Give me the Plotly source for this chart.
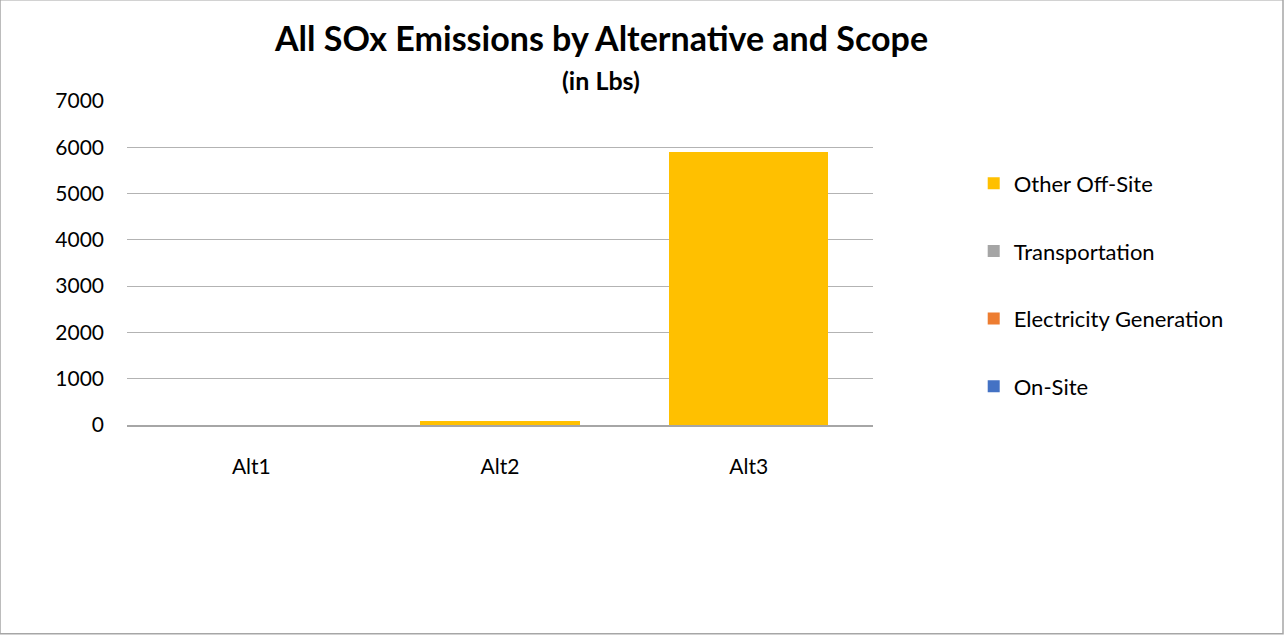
import plotly.graph_objects as go

# Emissions data (lbs)
alternatives = ["Alt1", "Alt2", "Alt3"]
on_site = [0, 0, 0]
electricity_generation = [0, 0, 0]
transportation = [0, 0, 0]
other_off_site = [0, 85, 5900]

y_ticks = [0, 1000, 2000, 3000, 4000, 5000, 6000, 7000]

series = [
    ("On-Site", on_site, "#4472C4"),
    ("Electricity Generation", electricity_generation, "#ED7D31"),
    ("Transportation", transportation, "#A5A5A5"),
    ("Other Off-Site", other_off_site, "#FFC000"),
]

FONT = "Lato, Open Sans, sans-serif"

fig = go.Figure()
n = len(series)
for i, (name, vals, color) in enumerate(series):
    fig.add_trace(go.Bar(
        x=alternatives, y=vals, name=name,
        marker=dict(color=color, line=dict(width=0)),
        legendgroup=f"g{i}",
        legendrank=n - i,
    ))

fig.update_layout(
    width=1284, height=637,
    barmode="stack",
    bargap=0.36,
    plot_bgcolor="white",
    paper_bgcolor="white",
    margin=dict(l=127, r=411, t=101, b=212),
    font=dict(family=FONT, size=21, color="#000000"),
    legend=dict(
        traceorder="grouped",
        tracegroupgap=36,
        x=1.135, xanchor="left", y=0.81, yanchor="top",
        font=dict(family=FONT, size=22, color="#000000"),
        itemwidth=30,
    ),
    xaxis=dict(
        showline=True, linecolor="#A6A6A6", linewidth=1.5,
        ticks="", ticklabelstandoff=22,
        tickfont=dict(family=FONT, size=21),
    ),
    yaxis=dict(
        range=[0, 7000], tickvals=y_ticks,
        showgrid=True, gridcolor="#B3B3B3", gridwidth=1,
        zeroline=False, showline=False, ticks="",
        ticklabelstandoff=22,
        tickfont=dict(family=FONT, size=21),
    ),
    annotations=[
        dict(text="<b>All SOx Emissions by Alternative and Scope</b>",
             xref="paper", yref="paper", x=(601 - 127) / 746, y=1 + (101 - 38) / 323,
             xanchor="center", yanchor="middle", showarrow=False,
             font=dict(family=FONT, size=34, color="#000000")),
        dict(text="<b>(in Lbs)</b>",
             xref="paper", yref="paper", x=(601 - 127) / 746, y=1 + (101 - 80) / 323,
             xanchor="center", yanchor="middle", showarrow=False,
             font=dict(family=FONT, size=25, color="#000000")),
    ],
    shapes=[dict(
        type="rect", xref="paper", yref="paper",
        x0=-127 / 746, x1=(1283 - 127) / 746,
        y0=-(632 - 424) / 323, y1=(424 + 0) / 323,
        line=dict(color="#A6A6A6", width=1.5), fillcolor="rgba(0,0,0,0)",
        layer="below",
    )],
)

fig.write_html("out.html")
